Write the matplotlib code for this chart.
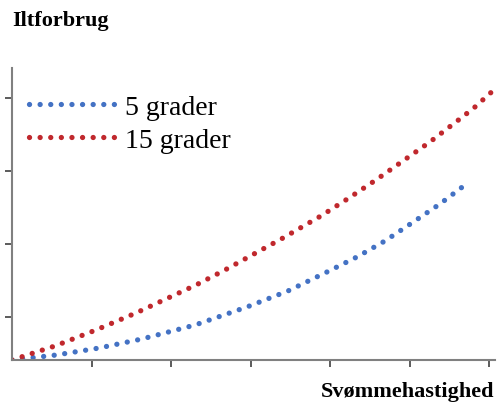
import matplotlib.pyplot as plt

# values (x: speed, y: oxygen use, arbitrary units)
x_5 = [0, 0.553, 1.093, 1.633, 2.299, 2.952, 3.467, 3.957, 4.334, 4.686, 5.025, 5.377, 5.720]
y_5 = [0, 0.068, 0.164, 0.288, 0.479, 0.726, 0.945, 1.205, 1.411, 1.630, 1.877, 2.137, 2.420]

x_15 = [0, 0.540, 1.055, 1.558, 1.935, 2.312, 2.676, 3.040, 3.405, 3.882, 4.234,
        4.573, 4.912, 5.251, 5.578, 5.804, 6.068]
y_15 = [0, 0.192, 0.411, 0.644, 0.836, 1.027, 1.233, 1.452, 1.671, 1.973, 2.219,
        2.466, 2.726, 2.986, 3.260, 3.452, 3.712]

labels = ['5 grader', '15 grader']
xticks = [1, 2, 3, 4, 5, 6]
yticks = [0.59, 1.59, 2.59, 3.59]

serif = ['Liberation Serif', 'DejaVu Serif']

fig = plt.figure(figsize=(4.98, 4.06), dpi=100)
ax = fig.add_axes([12/498, 1-361/406, 483/498, 292/406])

dots = (0, (0.01, 2.0))
ax.plot(x_5, y_5, color='#4472C4', lw=3.8, ls=dots, dash_capstyle='round', label=labels[0])
ax.plot(x_15, y_15, color='#C0282D', lw=3.8, ls=dots, dash_capstyle='round', label=labels[1])

ax.set_xlim(0, 6.07)
ax.set_ylim(0, 4.0)
ax.set_xticks(xticks)
ax.set_yticks(yticks)
ax.set_xticklabels([])
ax.set_yticklabels([])
ax.tick_params(direction='out', length=5, width=1.2, color='#404040')
for s in ['top', 'right']:
    ax.spines[s].set_visible(False)
for s in ['left', 'bottom']:
    ax.spines[s].set_color('#808080')
    ax.spines[s].set_linewidth(1.5)

leg = ax.legend(loc='upper left', bbox_to_anchor=(-0.005, 0.975), frameon=False,
                prop={'family': serif, 'size': 20}, handlelength=3.2,
                handletextpad=0.25, labelspacing=0.27, borderaxespad=0.3)

fig.text(12/498, 1-21/406, 'Iltforbrug', family=serif, weight='bold', fontsize=16,
         ha='left', va='center')
fig.text(494/498, 1-392/406, 'Svømmehastighed', family=serif, weight='bold', fontsize=16,
         ha='right', va='center')

fig.savefig('out.png', dpi=100)
